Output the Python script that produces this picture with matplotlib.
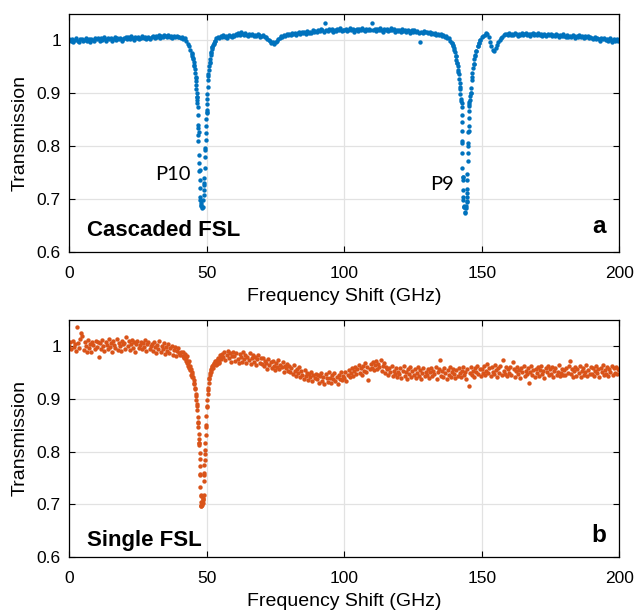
import numpy as np
import matplotlib.pyplot as plt

plt.rcParams['font.family'] = ['Liberation Sans', 'DejaVu Sans']

cascaded_trans = [
    1.002, 0.998, 1.001, 0.997, 1.000, 1.003, 0.999, 0.996, 1.001, 1.002, 0.998, 1.000, 1.003, 0.999, 1.001, 0.997, 1.002, 1.000, 0.998, 1.003,
    1.001, 1.004, 0.999, 1.003, 1.000, 1.005, 1.002, 0.998, 1.004, 1.001, 1.003, 0.999, 1.002, 1.005, 1.000, 1.003, 1.001, 1.004, 0.999, 1.002,
    1.003, 1.006, 1.001, 1.005, 1.002, 1.007, 1.004, 1.000, 1.005, 1.003, 1.006, 1.002, 1.004, 1.008, 1.003, 1.005, 1.001, 1.006, 1.004, 1.002,
    1.005, 1.008, 1.003, 1.007, 1.006, 1.009, 1.004, 1.008, 1.006, 1.010, 1.007, 1.005, 1.009, 1.006, 1.008, 1.004, 1.007, 1.005, 1.008, 1.006,
    1.006, 1.004, 1.005, 1.002, 1.003, 0.998, 0.993, 0.988, 0.982, 0.976, 0.966, 0.951, 0.928, 0.893, 0.826, 0.755, 0.688, 0.684, 0.726, 0.792,
    0.862, 0.932, 0.957, 0.975, 0.986, 0.993, 0.999, 1.003, 1.006, 1.004, 1.007, 1.005, 1.009, 1.006, 1.008, 1.004, 1.009, 1.007, 1.005, 1.010,
    1.008, 1.011, 1.009, 1.013, 1.010, 1.015, 1.012, 1.009, 1.013, 1.010, 1.008, 1.012, 1.009, 1.011, 1.007, 1.010, 1.008, 1.011, 1.009, 1.006,
    1.007, 1.009, 1.005, 1.006, 1.002, 1.000, 0.998, 0.995, 0.996, 0.993, 0.997, 0.999, 1.002, 1.004, 1.007, 1.006, 1.009, 1.008, 1.011, 1.009,
    1.012, 1.009, 1.013, 1.011, 1.014, 1.010, 1.013, 1.015, 1.012, 1.016, 1.013, 1.015, 1.012, 1.017, 1.014, 1.016, 1.013, 1.018, 1.015, 1.017,
    1.016, 1.019, 1.017, 1.020, 1.018, 1.016, 1.033, 1.019, 1.017, 1.020, 1.018, 1.021, 1.016, 1.019, 1.017, 1.020, 1.018, 1.022, 1.017, 1.019,
    1.018, 1.021, 1.017, 1.019, 1.022, 1.018, 1.020, 1.016, 1.019, 1.021, 1.017, 1.020, 1.018, 1.022, 1.019, 1.017, 1.020, 1.018, 1.021, 1.019,
    1.032, 1.018, 1.021, 1.017, 1.020, 1.018, 1.022, 1.019, 1.016, 1.020, 1.018, 1.021, 1.017, 1.019, 1.022, 1.018, 1.020, 1.016, 1.019, 1.017,
    1.019, 1.016, 1.020, 1.017, 1.018, 1.015, 1.019, 1.017, 1.014, 1.018, 1.016, 1.019, 1.015, 1.017, 1.014, 0.996, 1.016, 1.013, 1.017, 1.015,
    1.016, 1.013, 1.015, 1.012, 1.014, 1.011, 1.013, 1.010, 1.012, 1.009, 1.011, 1.008, 1.009, 1.006, 1.007, 1.004, 1.003, 0.999, 0.994, 0.989,
    0.981, 0.970, 0.957, 0.940, 0.911, 0.885, 0.742, 0.684, 0.676, 0.694, 0.800, 0.883, 0.900, 0.931, 0.955, 0.969, 0.980, 0.988, 0.995, 1.000,
    1.005, 1.008, 1.010, 1.013, 1.012, 1.006, 0.996, 0.988, 0.982, 0.980, 0.985, 0.991, 0.996, 1.000, 1.004, 1.006, 1.009, 1.011, 1.012, 1.010,
    1.013, 1.010, 1.012, 1.009, 1.014, 1.011, 1.008, 1.012, 1.010, 1.013, 1.009, 1.011, 1.014, 1.010, 1.012, 1.008, 1.011, 1.013, 1.009, 1.012,
    1.010, 1.013, 1.009, 1.011, 1.008, 1.012, 1.010, 1.007, 1.011, 1.009, 1.012, 1.008, 1.010, 1.007, 1.011, 1.009, 1.006, 1.010, 1.008, 1.011,
    1.008, 1.006, 1.009, 1.005, 1.008, 1.006, 1.010, 1.007, 1.004, 1.008, 1.006, 1.009, 1.005, 1.007, 1.004, 1.008, 1.005, 1.007, 1.003, 1.006,
    1.004, 1.002, 1.005, 1.001, 1.004, 1.002, 0.999, 1.003, 1.001, 1.004, 1.000, 1.002, 0.998, 1.003, 1.000, 0.997, 1.001, 0.999, 1.002, 0.998,
    1.000,
]
cascaded_freq = np.linspace(0, 200, len(cascaded_trans))

# denser points through the two resonances
p10_freq = [44.6, 44.8, 45.0, 45.2, 45.4, 45.6, 45.75, 45.9, 46.0, 46.1, 46.2, 46.3, 46.4, 46.5,
            46.60, 46.63, 46.68, 46.75, 46.78, 46.85, 46.90, 47.05, 47.15, 47.25, 47.35, 47.45, 47.60, 47.70, 47.80, 48.0, 48.3,
            48.75, 48.85, 48.95, 49.05, 49.12, 49.25, 49.40, 49.50, 49.62, 49.70, 49.80, 49.88, 49.95, 50.0, 50.08,
            50.15, 50.22, 50.30, 50.40, 50.55, 50.70, 50.85, 51.0, 51.2, 51.4, 51.6, 51.8, 52.0, 52.3, 52.6, 53.0]
p10_trans = [0.974, 0.970, 0.965, 0.958, 0.952, 0.945, 0.938, 0.930, 0.923, 0.915, 0.908, 0.900, 0.892, 0.886,
             0.881, 0.874, 0.859, 0.840, 0.834, 0.821, 0.809, 0.783, 0.767, 0.752, 0.736, 0.720, 0.704, 0.698, 0.692, 0.686, 0.683,
             0.698, 0.708, 0.717, 0.730, 0.739, 0.758, 0.780, 0.796, 0.811, 0.824, 0.838, 0.850, 0.865, 0.868, 0.879,
             0.889, 0.899, 0.912, 0.925, 0.935, 0.943, 0.951, 0.958, 0.965, 0.972, 0.978, 0.983, 0.987, 0.991, 0.995, 0.999]

p9_freq = [139.0, 139.4, 139.8, 140.2, 140.5, 140.8, 141.0, 141.2, 141.4, 141.6, 141.8, 141.95, 142.1, 142.25, 142.4,
           142.70, 142.72, 142.75, 142.78, 142.80, 142.85, 142.87, 142.92, 142.98, 143.02, 143.05, 143.12, 143.18, 143.22, 143.35, 143.45, 143.9,
           144.25, 144.30, 144.45, 144.52, 144.58, 144.62, 144.72, 144.78, 144.90, 144.98, 145.05, 145.15, 145.17, 145.22, 145.27, 145.32, 145.35,
           145.45, 145.6, 145.8, 146.0, 146.2, 146.4, 146.6, 146.8, 147.0, 147.3, 147.6, 148.0, 148.5, 149.0, 149.5]
p9_trans = [0.994, 0.990, 0.984, 0.978, 0.970, 0.963, 0.957, 0.950, 0.944, 0.936, 0.927, 0.918, 0.908, 0.898, 0.889,
            0.881, 0.874, 0.858, 0.846, 0.829, 0.809, 0.805, 0.786, 0.759, 0.742, 0.736, 0.717, 0.704, 0.698, 0.687, 0.684, 0.674,
            0.683, 0.686, 0.696, 0.704, 0.711, 0.719, 0.736, 0.748, 0.772, 0.786, 0.805, 0.826, 0.828, 0.837, 0.852, 0.866, 0.875,
            0.880, 0.887, 0.894, 0.900, 0.910, 0.925, 0.937, 0.947, 0.955, 0.964, 0.972, 0.980, 0.988, 0.995, 1.000]

single_trans = [
    1.000, 1.008, 0.994, 1.011, 0.998, 1.004, 0.991, 1.036, 1.006, 0.996, 1.013, 1.025, 1.020, 0.993, 1.009, 1.001, 0.990, 1.012, 0.997, 1.005, 0.989, 1.008, 1.002, 0.995, 1.010,
    0.998, 1.009, 0.979, 1.006, 0.994, 1.012, 1.000, 0.991, 1.008, 1.003, 0.995, 1.014, 0.999, 1.006, 0.990, 1.010, 1.002, 0.996, 1.013, 0.993, 1.007, 1.000, 0.992, 1.011, 1.004,
    1.006, 0.995, 1.017, 1.001, 1.010, 0.993, 1.004, 1.012, 0.997, 1.008, 0.990, 1.005, 1.011, 0.996, 1.003, 1.009, 0.994, 1.006, 0.999, 1.012, 0.992, 1.004, 1.008, 0.995, 1.001,
    1.005, 0.992, 1.009, 0.998, 0.988, 1.003, 0.995, 1.010, 0.990, 1.001, 0.994, 1.006, 0.986, 0.999, 0.992, 1.004, 0.987, 0.996, 1.001, 0.984, 0.993, 0.998, 0.982, 0.991, 0.996,
    0.988, 0.983, 0.990, 0.981, 0.978, 0.982, 0.972, 0.968, 0.963, 0.958, 0.955, 0.946, 0.941, 0.931, 0.921, 0.905, 0.887, 0.857, 0.817, 0.757, 0.697, 0.699, 0.712, 0.784, 0.846,
    0.887, 0.918, 0.938, 0.950, 0.955, 0.960, 0.964, 0.968, 0.973, 0.966, 0.978, 0.971, 0.983, 0.975, 0.986, 0.979, 0.990, 0.974, 0.984, 0.992, 0.977, 0.987, 0.970, 0.981, 0.989,
    0.982, 0.973, 0.988, 0.976, 0.969, 0.985, 0.979, 0.971, 0.990, 0.975, 0.983, 0.968, 0.980, 0.974, 0.987, 0.966, 0.977, 0.983, 0.970, 0.979, 0.965, 0.975, 0.984, 0.969, 0.977,
    0.966, 0.978, 0.962, 0.973, 0.968, 0.957, 0.975, 0.964, 0.970, 0.959, 0.972, 0.963, 0.955, 0.968, 0.961, 0.974, 0.956, 0.965, 0.960, 0.970, 0.952, 0.963, 0.958, 0.967, 0.954,
    0.962, 0.951, 0.958, 0.947, 0.965, 0.953, 0.944, 0.957, 0.949, 0.960, 0.942, 0.953, 0.946, 0.938, 0.955, 0.944, 0.950, 0.936, 0.947, 0.941, 0.952, 0.934, 0.945, 0.939, 0.948,
    0.937, 0.946, 0.931, 0.943, 0.950, 0.935, 0.941, 0.928, 0.947, 0.939, 0.933, 0.952, 0.940, 0.930, 0.945, 0.937, 0.949, 0.934, 0.942, 0.929, 0.946, 0.938, 0.951, 0.936, 0.944,
    0.940, 0.951, 0.935, 0.946, 0.955, 0.942, 0.949, 0.958, 0.944, 0.953, 0.961, 0.947, 0.956, 0.965, 0.950, 0.959, 0.945, 0.962, 0.954, 0.968, 0.951, 0.960, 0.936, 0.957, 0.966,
    0.958, 0.970, 0.955, 0.964, 0.972, 0.957, 0.966, 0.960, 0.974, 0.953, 0.963, 0.968, 0.950, 0.961, 0.956, 0.945, 0.958, 0.951, 0.962, 0.943, 0.954, 0.948, 0.959, 0.941, 0.952,
    0.947, 0.958, 0.940, 0.953, 0.962, 0.944, 0.951, 0.938, 0.956, 0.948, 0.960, 0.942, 0.953, 0.946, 0.957, 0.939, 0.950, 0.961, 0.944, 0.955, 0.937, 0.949, 0.958, 0.943, 0.952,
    0.945, 0.956, 0.940, 0.951, 0.959, 0.943, 0.954, 0.947, 0.961, 0.938, 0.952, 0.957, 0.974, 0.944, 0.953, 0.941, 0.958, 0.949, 0.937, 0.955, 0.946, 0.960, 0.942, 0.951, 0.956,
    0.948, 0.939, 0.955, 0.944, 0.958, 0.950, 0.941, 0.953, 0.960, 0.945, 0.952, 0.938, 0.957, 0.924, 0.949, 0.961, 0.946, 0.954, 0.942, 0.959, 0.951, 0.963, 0.947, 0.956, 0.944,
    0.957, 0.949, 0.962, 0.945, 0.953, 0.966, 0.950, 0.958, 0.943, 0.961, 0.952, 0.947, 0.964, 0.955, 0.941, 0.959, 0.950, 0.963, 0.946, 0.974, 0.954, 0.948, 0.960, 0.944, 0.957,
    0.950, 0.961, 0.945, 0.971, 0.956, 0.942, 0.953, 0.960, 0.947, 0.955, 0.940, 0.958, 0.951, 0.963, 0.944, 0.954, 0.948, 0.959, 0.930, 0.952, 0.962, 0.946, 0.955, 0.941, 0.957,
    0.949, 0.960, 0.944, 0.955, 0.963, 0.947, 0.953, 0.940, 0.958, 0.951, 0.962, 0.945, 0.956, 0.948, 0.961, 0.942, 0.954, 0.959, 0.946, 0.952, 0.964, 0.943, 0.950, 0.957, 0.945,
    0.955, 0.946, 0.959, 0.950, 0.962, 0.972, 0.948, 0.957, 0.941, 0.953, 0.960, 0.944, 0.956, 0.949, 0.963, 0.942, 0.954, 0.958, 0.946, 0.951, 0.964, 0.943, 0.955, 0.948, 0.960,
    0.947, 0.958, 0.943, 0.954, 0.962, 0.949, 0.956, 0.941, 0.959, 0.951, 0.964, 0.945, 0.955, 0.948, 0.961, 0.944, 0.957, 0.952, 0.963, 0.946, 0.958, 0.950, 0.960, 0.947, 0.956,
    0.955,
]
single_freq = np.linspace(0, 200, len(single_trans))

single_dip_freq = [41.4, 41.8, 42.1, 42.5, 42.9, 43.1, 43.5, 43.9, 44.1, 44.5, 44.7, 45.0, 45.3, 45.5, 45.8, 46.0, 46.2, 46.35,
                   46.5, 46.65, 46.8, 46.9, 47.0, 47.1, 47.2, 47.3, 47.38, 47.45, 47.52, 47.6, 47.7, 47.8, 47.82, 47.9, 47.95, 48.05,
                   48.7, 48.75, 48.8, 48.85, 48.95, 49.0, 49.05, 49.15, 49.3, 49.35, 49.45, 49.55, 49.7, 49.85, 50.0, 50.15, 50.3,
                   50.5, 50.7, 50.9, 51.1, 51.4, 51.7, 52.0, 52.4, 52.8, 53.1, 53.5, 54.0, 54.5, 55.0]
single_dip_trans = [0.990, 0.979, 0.986, 0.975, 0.981, 0.968, 0.972, 0.962, 0.957, 0.951, 0.947, 0.941, 0.936, 0.928, 0.919, 0.909, 0.898, 0.890,
                    0.880, 0.866, 0.855, 0.846, 0.833, 0.824, 0.816, 0.813, 0.797, 0.786, 0.773, 0.756, 0.733, 0.718, 0.715, 0.705, 0.699, 0.696,
                    0.702, 0.708, 0.711, 0.718, 0.745, 0.756, 0.760, 0.775, 0.796, 0.804, 0.816, 0.832, 0.851, 0.867, 0.884, 0.898, 0.909,
                    0.921, 0.931, 0.940, 0.946, 0.951, 0.956, 0.963, 0.958, 0.966, 0.972, 0.964, 0.976, 0.969, 0.981]

x_ticks = [0, 50, 100, 150, 200]
y_ticks = [0.6, 0.7, 0.8, 0.9, 1.0]
y_tick_labels = ['0.6', '0.7', '0.8', '0.9', '1']

blue = '#0072BD'
orange = '#D95319'
dot = 10


def style(ax):
    ax.set_xlim(0, 200)
    ax.set_ylim(0.6, 1.05)
    ax.set_xticks(x_ticks)
    ax.set_yticks(y_ticks)
    ax.set_yticklabels(y_tick_labels)
    ax.tick_params(direction='in', top=True, right=True, length=4, width=0.8,
                   labelsize=12.5)
    ax.tick_params(axis='x', pad=10)
    ax.tick_params(axis='y', pad=6)
    ax.grid(True, color='#e2e2e2', linewidth=0.9)
    ax.set_axisbelow(True)
    for s in ax.spines.values():
        s.set_linewidth(0.9)
    ax.set_xlabel('Frequency Shift (GHz)', fontsize=14, labelpad=5)
    ax.set_ylabel('Transmission', fontsize=14, labelpad=6)


fig = plt.figure(figsize=(6.34, 6.11), dpi=100)
ax1 = fig.add_axes([0.1093, 0.5876, 0.8675, 0.3903])
ax2 = fig.add_axes([0.1093, 0.0884, 0.8675, 0.3879])

ax1.scatter(cascaded_freq, cascaded_trans, s=dot, color=blue, linewidths=0)
ax1.scatter(p10_freq, p10_trans, s=dot, color=blue, linewidths=0)
ax1.scatter(p9_freq, p9_trans, s=dot, color=blue, linewidths=0)
style(ax1)
ax1.text(31.2, 0.735, 'P10', fontsize=14.5, family='Lato')
ax1.text(131.2, 0.717, 'P9', fontsize=14.5, family='Lato')
ax1.text(6.3, 0.630, 'Cascaded FSL', fontsize=16, fontweight='bold')
ax1.text(195.2, 0.635, 'a', fontsize=17.5, fontweight='bold', ha='right')

ax2.scatter(single_freq, single_trans, s=dot, color=orange, linewidths=0)
ax2.scatter(single_dip_freq, single_dip_trans, s=dot, color=orange, linewidths=0)
style(ax2)
ax2.text(6.3, 0.621, 'Single FSL', fontsize=16, fontweight='bold')
ax2.text(195.4, 0.628, 'b', fontsize=17.5, fontweight='bold', ha='right')

fig.savefig('out.png', dpi=100)
